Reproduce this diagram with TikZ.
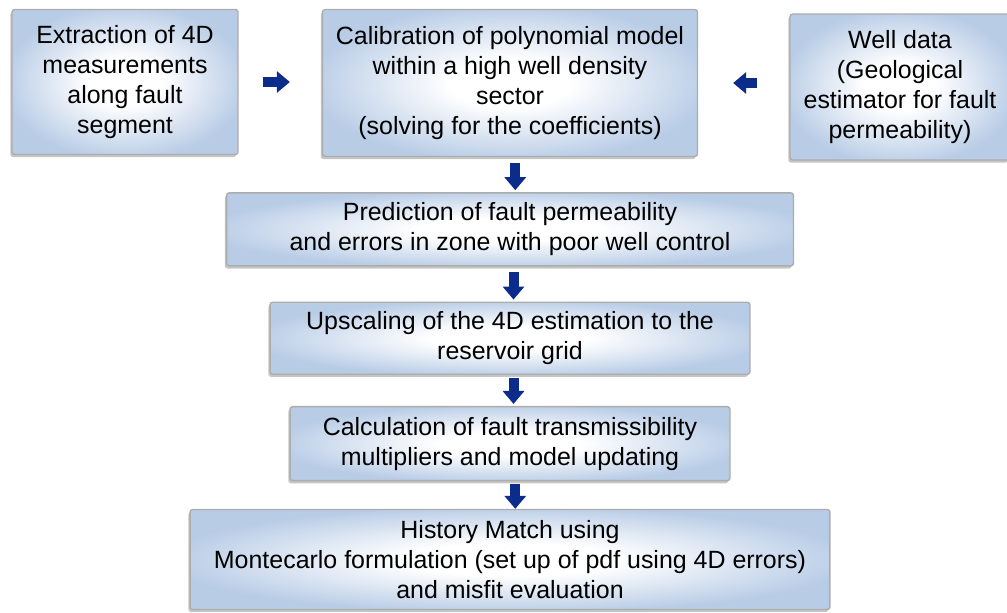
\documentclass[tikz,border=0pt]{standalone}
\usepackage{fontspec}
\setmainfont{Liberation Sans}
\usetikzlibrary{positioning, shadows, arrows.meta}
\definecolor{boxedge}{RGB}{184,204,230}
\definecolor{arrowblue}{RGB}{12,44,140}
\pgfdeclareradialshading{boxglow}{\pgfpoint{0bp}{0bp}}{color(0bp)=(white); color(8bp)=(white); color(27bp)=(boxedge); color(50bp)=(boxedge)}

\begin{document}
\begin{tikzpicture}[x=0.02cm, y=-0.02cm,
    font=\fontsize{14.2}{17}\selectfont,
    stepbox/.style={rectangle, rounded corners=1.5pt, draw=gray!65, line width=0.8pt,
        shading=boxglow, align=center,
        drop shadow={shadow xshift=-1pt, shadow yshift=-1.5pt, opacity=0.45}},
    flow/.style={-{Triangle[width=0.42cm, length=0.26cm]}, line width=0.2cm, draw=arrowblue}]
    \useasboundingbox (0,0) rectangle (1007,612);
    % Add the boxes
        \node[stepbox, minimum width=4.52cm, minimum height=2.9cm] (extr) at (125,82)
            {Extraction of 4D\\measurements\\along fault\\segment};
        \node[stepbox, minimum width=7.5cm, minimum height=2.94cm] (cal) at (510,83)
            {Calibration of polynomial model\\within a high well density\\sector\\(solving for the coefficients)};
        \node[stepbox, minimum width=4.4cm, minimum height=2.92cm] (well) at (900,87)
            {Well data\\(Geological\\estimator for fault\\permeability)};
        \node[stepbox, below=0.7cm of cal, minimum width=11.34cm, minimum height=1.46cm] (pred)
            {Prediction of fault permeability\\and errors in zone with poor well control};
        \node[stepbox, below=0.7cm of pred, minimum width=9.6cm, minimum height=1.44cm] (up)
            {Upscaling of the 4D estimation to the\\reservoir grid};
        \node[stepbox, below=0.62cm of up, minimum width=8.8cm, minimum height=1.48cm] (calc)
            {Calculation of fault transmissibility\\multipliers and model updating};
        \node[stepbox, below=0.55cm of calc, minimum width=12.8cm, minimum height=2.0cm] (hist)
            {History Match using\\Montecarlo formulation (set up of pdf using 4D errors)\\and misfit evaluation};

        % Connect the boxes with arrows
        \draw[flow, shorten <=0.48cm, shorten >=0.64cm] (extr.east) -- (cal.west |- extr.east);
        \draw[flow, shorten <=0.64cm, shorten >=0.7cm] (well.west |- cal.east) -- (cal.east);
        \draw[flow, shorten <=0.12cm, shorten >=0.04cm] ([xshift=3pt]cal.south) -- ([xshift=3pt]pred.north);
        \draw[flow, shorten <=0.1cm, shorten >=0.04cm] ([xshift=2pt]pred.south) -- ([xshift=2pt]up.north);
        \draw[flow, shorten <=0.06cm, shorten >=0.04cm] ([xshift=2pt]up.south) -- ([xshift=2pt]calc.north);
        \draw[flow, shorten <=0.06cm, shorten >=0.0cm] ([xshift=3pt]calc.south) -- ([xshift=3pt]hist.north);
\end{tikzpicture}
\end{document}
